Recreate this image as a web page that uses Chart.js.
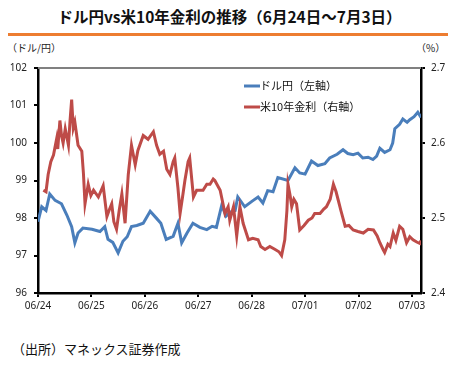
<!DOCTYPE html>
<html>
<head>
<meta charset="utf-8">
<script src="https://cdn.jsdelivr.net/npm/chart.js@4"></script>
<style>
  body { margin: 0; background: #fff; width: 459px; height: 370px; position: relative; overflow: hidden;
         font-family: "Noto Sans CJK JP", "Noto Sans", sans-serif; color: #111; }
  #title { position: absolute; left: 0; width: 459px; top: 5px; text-align: center; font-size: 15.5px; font-weight: bold; }
  #rule { position: absolute; left: 8px; width: 440px; top: 33px; height: 3px; background: #ED7D31; }
  .unit { position: absolute; top: 40px; font-size: 10px; color: #222; }
  #foot { position: absolute; left: 12px; top: 339px; font-size: 13px; color: #111; }
  #wrap { position: absolute; left: 0; top: 55px; width: 459px; height: 262px; }
</style>
</head>
<body>
<div id="title">ドル円vs米10年金利の推移（6月24日～7月3日）</div>
<div id="rule"></div>
<div class="unit" style="left:7px">（ドル/円）</div>
<div class="unit" style="left:416px">（%）</div>
<div id="wrap"><canvas id="chart"></canvas></div>
<div id="foot">（出所）マネックス証券作成</div>
<script>
// x tick labels, one per trading day
const dateLabels = ["06/24", "06/25", "06/26", "06/27", "06/28", "07/01", "07/02", "07/03"];

// USD/JPY (left axis), time in trading days from 06/24
const usdjpyDay = [0.00, 0.07, 0.15, 0.22, 0.32, 0.44, 0.54, 0.63, 0.69, 0.75, 0.84, 1.01, 1.16, 1.25, 1.31, 1.40, 1.50, 1.59, 1.67, 1.75,
  1.85, 1.97, 2.10, 2.22, 2.30, 2.40, 2.53, 2.62, 2.69, 2.79, 2.90, 3.03, 3.16, 3.26, 3.34, 3.44, 3.52, 3.59, 3.69, 3.74,
  3.87, 4.01, 4.12, 4.21, 4.30, 4.40, 4.49, 4.68, 4.81, 4.90, 5.00, 5.12, 5.24, 5.37, 5.46, 5.60, 5.71, 5.80, 5.90, 5.99,
  6.08, 6.18, 6.27, 6.34, 6.40, 6.49, 6.59, 6.64, 6.68, 6.77, 6.83, 6.91, 6.96, 7.04, 7.11, 7.17];
const usdjpy = [97.90, 98.30, 98.20, 98.64, 98.47, 98.38, 98.08, 97.77, 97.34, 97.60, 97.73, 97.70, 97.64, 97.77, 97.43, 97.35, 97.07, 97.38, 97.50, 97.77,
  97.80, 97.86, 98.18, 97.99, 97.86, 97.43, 97.51, 97.86, 97.34, 97.60, 97.86, 97.75, 97.69, 97.78, 97.75, 98.34, 98.05, 98.15, 98.20, 98.56,
  98.30, 98.45, 98.56, 98.40, 98.73, 98.70, 99.08, 99.00, 99.34, 99.20, 99.17, 99.52, 99.40, 99.45, 99.60, 99.70, 99.82, 99.72, 99.69, 99.73,
  99.60, 99.62, 99.56, 99.65, 99.86, 99.75, 99.82, 100.00, 100.38, 100.50, 100.64, 100.55, 100.62, 100.70, 100.82, 100.68];

// US 10y yield (right axis, %)
const ust10yDay = [0.10, 0.15, 0.19, 0.24, 0.29, 0.35, 0.37, 0.41, 0.44, 0.47, 0.51, 0.57, 0.60, 0.63, 0.66, 0.69, 0.75, 0.82, 0.85, 0.88,
  0.94, 0.99, 1.04, 1.13, 1.22, 1.29, 1.33, 1.38, 1.42, 1.47, 1.52, 1.57, 1.63, 1.69, 1.75, 1.82, 1.87, 1.97, 2.06, 2.16,
  2.22, 2.28, 2.35, 2.41, 2.47, 2.53, 2.56, 2.62, 2.66, 2.71, 2.75, 2.81, 2.84, 2.91, 2.97, 3.09, 3.16, 3.22, 3.28, 3.31,
  3.41, 3.46, 3.50, 3.56, 3.59, 3.66, 3.72, 3.78, 3.84, 3.94, 4.02, 4.12, 4.17, 4.25, 4.34, 4.44, 4.51, 4.56, 4.62, 4.66,
  4.68, 4.72, 4.75, 4.79, 4.84, 4.90, 4.98, 5.06, 5.13, 5.18, 5.28, 5.35, 5.40, 5.47, 5.53, 5.58, 5.62, 5.67, 5.75, 5.82,
  5.90, 5.99, 6.09, 6.18, 6.28, 6.35, 6.40, 6.46, 6.49, 6.55, 6.59, 6.65, 6.70, 6.77, 6.83, 6.90, 6.96, 7.02, 7.09, 7.15, 7.17];
const ust10y = [2.537, 2.535, 2.558, 2.575, 2.584, 2.606, 2.592, 2.630, 2.610, 2.600, 2.619, 2.597, 2.630, 2.658, 2.620, 2.628, 2.597, 2.589, 2.560, 2.519,
  2.545, 2.530, 2.537, 2.528, 2.543, 2.502, 2.510, 2.519, 2.495, 2.485, 2.510, 2.532, 2.493, 2.558, 2.597, 2.571, 2.590, 2.610, 2.605, 2.615,
  2.597, 2.585, 2.589, 2.565, 2.558, 2.575, 2.580, 2.540, 2.506, 2.530, 2.550, 2.575, 2.580, 2.528, 2.537, 2.537, 2.545, 2.545, 2.552, 2.550,
  2.537, 2.520, 2.506, 2.515, 2.497, 2.515, 2.476, 2.515, 2.493, 2.471, 2.473, 2.471, 2.462, 2.458, 2.462, 2.458, 2.455, 2.450, 2.471, 2.510,
  2.545, 2.530, 2.515, 2.525, 2.519, 2.484, 2.490, 2.497, 2.500, 2.506, 2.506, 2.512, 2.515, 2.525, 2.545, 2.535, 2.524, 2.510, 2.489, 2.490,
  2.484, 2.482, 2.480, 2.485, 2.484, 2.476, 2.467, 2.458, 2.454, 2.465, 2.462, 2.480, 2.470, 2.489, 2.485, 2.467, 2.475, 2.471, 2.468, 2.466, 2.470];

const blue = '#4A7EBB';
const red = '#BE4B48';
const tickFont = { family: "'Noto Sans', sans-serif", size: 10 };

// legend drawn inside the plot, and the grey top border
const extras = {
  id: 'extras',
  afterDatasetsDraw(chart) {
    const { ctx, chartArea: a } = chart;
    ctx.save();
    ctx.strokeStyle = '#808080';
    ctx.lineWidth = 2;
    ctx.beginPath();
    ctx.moveTo(a.left, a.top);
    ctx.lineTo(a.right, a.top);
    ctx.stroke();
    ctx.font = "11px 'Noto Sans CJK JP'";
    ctx.textBaseline = 'middle';
    chart.data.datasets.forEach((ds, i) => {
      const y = a.top + 18 + i * 21;
      ctx.strokeStyle = ds.borderColor;
      ctx.lineWidth = 3;
      ctx.beginPath();
      ctx.moveTo(a.left + 206, y);
      ctx.lineTo(a.left + 222, y);
      ctx.stroke();
      ctx.fillStyle = '#111';
      ctx.fillText(ds.label, a.left + 222, y);
    });
    ctx.restore();
  }
};

new Chart(document.getElementById('chart'), {
  type: 'line',
  data: {
    datasets: [
      {
        label: 'ドル円（左軸）',
        data: usdjpyDay.map((d, i) => ({ x: d, y: usdjpy[i] })),
        yAxisID: 'y',
        borderColor: blue,
        borderWidth: 3,
        pointRadius: 0,
        tension: 0,
        order: 1
      },
      {
        label: '米10年金利（右軸）',
        data: ust10yDay.map((d, i) => ({ x: d, y: ust10y[i] })),
        yAxisID: 'y1',
        borderColor: red,
        borderWidth: 3,
        pointRadius: 0,
        tension: 0,
        order: 0
      }
    ]
  },
  options: {
    responsive: true,
    maintainAspectRatio: false,
    animation: false,
    layout: { padding: { top: 8, left: 0, right: 0, bottom: 0 } },
    plugins: { legend: { display: false }, tooltip: { enabled: false } },
    scales: {
      x: {
        type: 'linear',
        min: 0,
        max: 7.17,
        afterBuildTicks: s => { s.ticks = dateLabels.map((_, i) => ({ value: i })); },
        afterFit: s => { s.height = 24; },
        ticks: { callback: v => dateLabels[v], color: '#222', font: tickFont, padding: 3, maxRotation: 0 },
        grid: { drawOnChartArea: false, tickLength: 4, color: '#000', lineWidth: 2 },
        border: { color: '#000', width: 2.5 }
      },
      y: {
        position: 'left',
        min: 96,
        max: 102,
        afterFit: s => { s.width = 38; },
        ticks: { stepSize: 1, color: '#222', font: tickFont, padding: 7 },
        grid: { drawOnChartArea: false, tickLength: 4, color: '#000', lineWidth: 2 },
        border: { color: '#000', width: 2.5 }
      },
      y1: {
        position: 'right',
        min: 2.4,
        max: 2.7,
        afterFit: s => { s.width = 38; },
        ticks: { stepSize: 0.1, callback: v => v.toFixed(1), color: '#222', font: tickFont, padding: 6 },
        grid: { drawOnChartArea: false, tickLength: 4, color: '#000', lineWidth: 2 },
        border: { color: '#000', width: 2.5 }
      }
    }
  },
  plugins: [extras]
});
</script>
</body>
</html>
